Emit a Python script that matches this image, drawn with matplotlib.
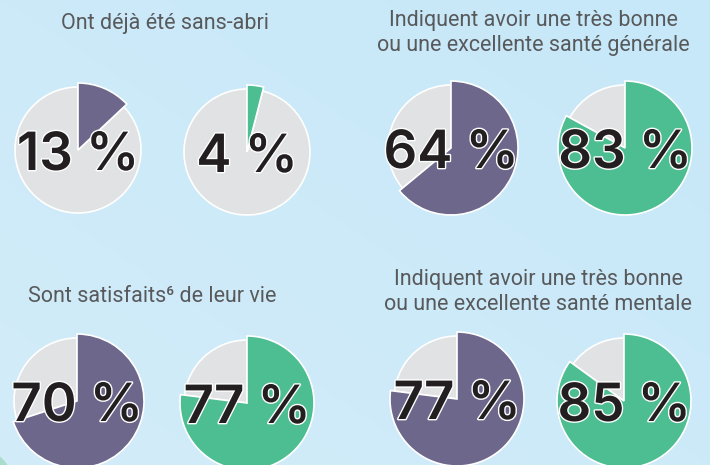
import matplotlib
matplotlib.use("Agg")
import matplotlib.pyplot as plt
import matplotlib.patheffects as pe
import numpy as np

# ---- data ----
titles = [
    "Ont déjà été sans-abri",
    "Indiquent avoir une très bonne\nou une excellente santé générale",
    "Sont satisfaits\u2076 de leur vie",
    "Indiquent avoir une très bonne\nou une excellente santé mentale",
]
values_purple = [13, 64, 70, 77]
values_green = [4, 83, 77, 85]
labels_purple = ["13 %", "64 %", "70 %", "77 %"]
labels_green = ["4 %", "83 %", "77 %", "85 %"]

# ---- layout (pixel units, y measured from top) ----
W, H = 710, 465
title_pos = [(165, 24), (533, 33), (152, 297), (538, 292)]
centers_purple = [(78, 150), (451, 148), (77, 401), (457, 399)]
centers_green = [(247, 152), (625, 148), (247, 403), (624, 401)]
r_grey = 63
r_col = 67

PURPLE = "#6e678c"
GREEN = "#4dbe91"
GREY = "#e1e2e4"
TITLE_C = "#58595b"

fig = plt.figure(figsize=(W / 100, H / 100), dpi=100)
ax = fig.add_axes([0, 0, 1, 1])

# background gradient
grad = np.linspace(0, 1, 256)
gx, gy = np.meshgrid(grad, grad)
t = (gx + (1 - gy)) / 2
c0 = np.array([0xd3, 0xec, 0xf8]) / 255
c1 = np.array([0xc6, 0xe8, 0xf9]) / 255
img = c0[None, None, :] * (1 - t[..., None]) + c1[None, None, :] * t[..., None]
ax.imshow(img, extent=(0, W, 0, H), origin="upper", zorder=0, aspect="auto")

# decorative corner shape
ax.add_patch(plt.Circle((-30, -25), 45, color="#a9dcc9", zorder=0.5, lw=0))


def draw_pie(cx, cy_top, val, color, label):
    cy = H - cy_top
    ax.pie([val, 100 - val], colors=["none", GREY], startangle=90,
           counterclock=False, radius=r_grey, center=(cx, cy), frame=True,
           wedgeprops=dict(edgecolor="white", linewidth=1.2))
    w, _ = ax.pie([val, 100 - val], colors=[color, "none"], startangle=90,
                  counterclock=False, radius=r_col, center=(cx, cy), frame=True,
                  wedgeprops=dict(linewidth=1.2))
    w[0].set_edgecolor("white")
    w[1].set_edgecolor("none")
    ax.text(cx, cy - 20, label, ha="center", va="baseline", fontsize=38,
            fontweight="semibold", family=["Inter", "DejaVu Sans"],
            color="#231f20", zorder=5,
            path_effects=[pe.withStroke(linewidth=2, foreground="white")])


for i in range(4):
    draw_pie(*centers_purple[i], values_purple[i], PURPLE, labels_purple[i])
    draw_pie(*centers_green[i], values_green[i], GREEN, labels_green[i])
    tx, ty = title_pos[i]
    ax.text(tx, H - ty, titles[i], ha="center", va="center", fontsize=15.5,
            family=["Roboto", "DejaVu Sans"], color=TITLE_C, linespacing=1.2,
            zorder=5)

ax.set_xlim(0, W)
ax.set_ylim(0, H)
ax.set_aspect("auto")
ax.axis("off")
fig.savefig("out.png", dpi=100)
